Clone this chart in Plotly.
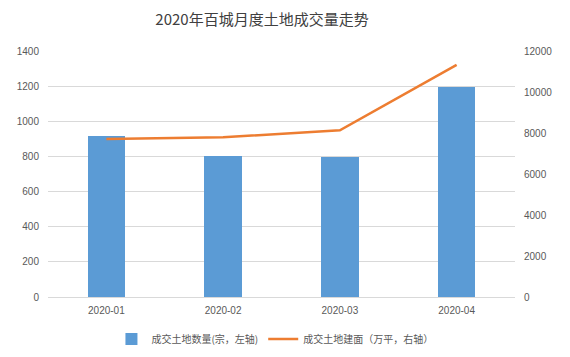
import plotly.graph_objects as go

categories = ["2020-01", "2020-02", "2020-03", "2020-04"]
land_count = [915, 802, 797, 1195]
land_area = [7710, 7790, 8130, 11320]
left_ticks = [0, 200, 400, 600, 800, 1000, 1200, 1400]
right_ticks = [0, 2000, 4000, 6000, 8000, 10000, 12000]

fig = go.Figure()
fig.add_trace(go.Bar(
    x=categories, y=land_count, name="成交土地数量(宗，左轴)",
    marker=dict(color="#5b9bd5", line=dict(width=0)), width=0.32, yaxis="y",
))
fig.add_trace(go.Scatter(
    x=categories, y=land_area, name="成交土地建面（万平，右轴）",
    mode="lines", line=dict(color="#ed7d31", width=2.5), yaxis="y2",
))

tickfont = dict(family="Liberation Sans, Arial, sans-serif", size=10, color="#595959")
fig.update_layout(
    width=570, height=357,
    margin=dict(l=40, r=63, t=43, b=68, autoexpand=False),
    paper_bgcolor="white", plot_bgcolor="white",
    title=dict(text="2020年百城月度土地成交量走势", x=(262 - 8) / 570, xanchor="center",
               yref="container", y=0.966, yanchor="middle",
               font=dict(family="Noto Sans CJK SC, sans-serif", size=15, color="#404040")),
    xaxis=dict(type="category", showgrid=False, showline=True, linecolor="#d9d9d9", linewidth=1,
               ticks="", tickfont=tickfont, automargin=False, ticklabelstandoff=4),
    yaxis=dict(range=[0, 1400], tickvals=left_ticks, ticktext=[str(v) for v in left_ticks],
               showgrid=True, gridcolor="#d9d9d9",
               gridwidth=1, zeroline=False, showline=False, tickfont=tickfont, ticks="",
               ticklabelstandoff=8, automargin=False),
    yaxis2=dict(range=[0, 12000], tickvals=right_ticks, ticktext=[str(v) for v in right_ticks],
                overlaying="y", side="right",
                showgrid=False, zeroline=False, showline=False, tickfont=tickfont, ticks="",
                ticklabelstandoff=8, automargin=False),
    showlegend=True,
    legend=dict(orientation="h", x=(285 - 8) / 570, xanchor="center", yref="container", y=0.073,
                yanchor="middle",
                font=dict(family="Noto Sans CJK SC, sans-serif", size=10, color="#595959"),
                tracegroupgap=0),
    bargap=0,
)
fig.write_html("out.html")
